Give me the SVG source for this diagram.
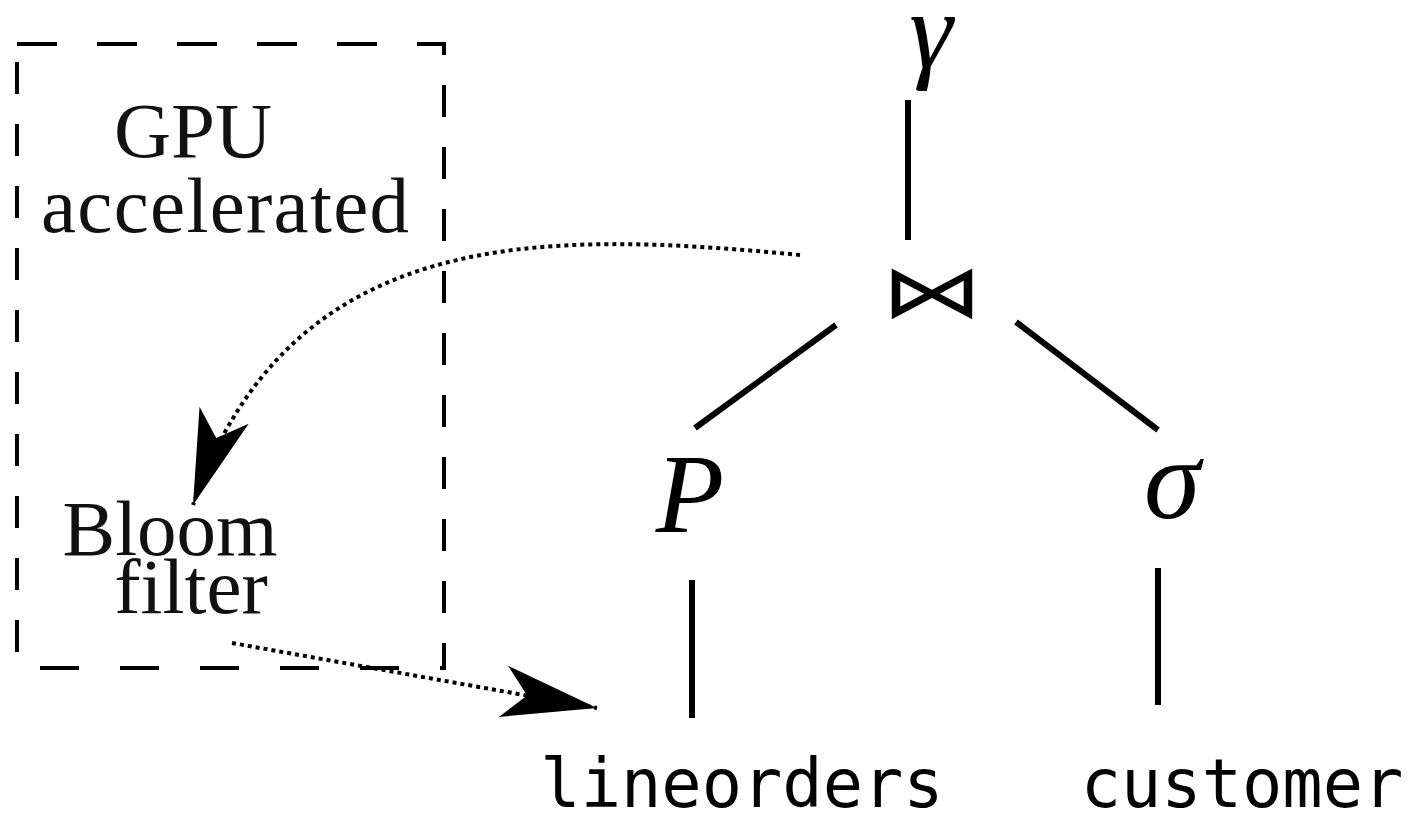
<svg xmlns="http://www.w3.org/2000/svg" width="1407" height="815" viewBox="0 0 1407 815">
<style>
.serif{font-family:"Liberation Serif","DejaVu Serif",serif;fill:#111;}
.math{font-family:"Liberation Serif","DejaVu Serif",serif;font-style:italic;fill:#000;}
.mono{font-family:"DejaVu Sans Mono","Liberation Mono",monospace;fill:#000;}
.edge{stroke:#000;stroke-width:6;fill:none;}
.dot{stroke:#000;stroke-width:4;fill:none;stroke-dasharray:4 4;}
.box{stroke:#000;stroke-width:4;fill:none;}
</style>
<defs>
<marker id="arrow" markerUnits="userSpaceOnUse" markerWidth="100" markerHeight="60" viewBox="-100 -30 100 60" refX="0" refY="0" orient="auto">
<path d="M0,0 L-95,-26 L-71,0 L-95,26 Z" fill="#000"/>
</marker>
</defs>
<rect x="0" y="0" width="1407" height="815" fill="#fff"/>
<g id="gpu-box">
<line class="box" x1="17" y1="44" x2="446" y2="44" stroke-dasharray="40 40"/>
<line class="box" x1="444" y1="42" x2="444" y2="670" stroke-dasharray="32 30" stroke-dashoffset="19"/>
<line class="box" x1="17" y1="44" x2="17" y2="668" stroke-dasharray="32 30" stroke-dashoffset="44"/>
<line class="box" x1="17" y1="668" x2="446" y2="668" stroke-dasharray="39 41" stroke-dashoffset="57"/>
<text class="serif" x="193" y="157" font-size="79" text-anchor="middle">GPU</text>
<text class="serif" x="225" y="232" font-size="79" text-anchor="middle" textLength="368">accelerated</text>
</g>
<g id="bloom">
<text class="serif" x="170" y="555" font-size="79" text-anchor="middle">Bloom</text>
<text class="serif" x="191" y="613" font-size="79" text-anchor="middle">filter</text>
</g>
<g id="gamma"><text class="math" x="931" y="68" font-size="110" text-anchor="middle">γ</text></g>
<g id="join"><text transform="translate(932 317) scale(1.02 0.74)" x="0" y="0" font-family="DejaVu Sans, sans-serif" font-size="100" text-anchor="middle">⋈</text></g>
<g id="proj"><text class="math" x="690" y="532" font-size="112" text-anchor="middle">P</text></g>
<g id="select"><text class="math" x="1172" y="518" font-size="114" text-anchor="middle">σ</text></g>
<g id="lineorders"><text class="mono" x="742" y="807" font-size="67" text-anchor="middle">lineorders</text></g>
<g id="customer"><text class="mono" x="1242" y="807" font-size="67" text-anchor="middle">customer</text></g>
<g id="connectors">
<line class="edge" x1="908" y1="100" x2="908" y2="240"/>
<line class="edge" x1="836" y1="325" x2="695" y2="428"/>
<line class="edge" x1="1016" y1="322" x2="1158" y2="430"/>
<line class="edge" x1="692" y1="580" x2="692" y2="718"/>
<line class="edge" x1="1158" y1="568" x2="1158" y2="705"/>
<path class="dot" d="M800 255 C540 230, 290 225, 193 505" marker-end="url(#arrow)"/>
<path class="dot" d="M232 643 L597 708" marker-end="url(#arrow)"/>
</g>
</svg>
